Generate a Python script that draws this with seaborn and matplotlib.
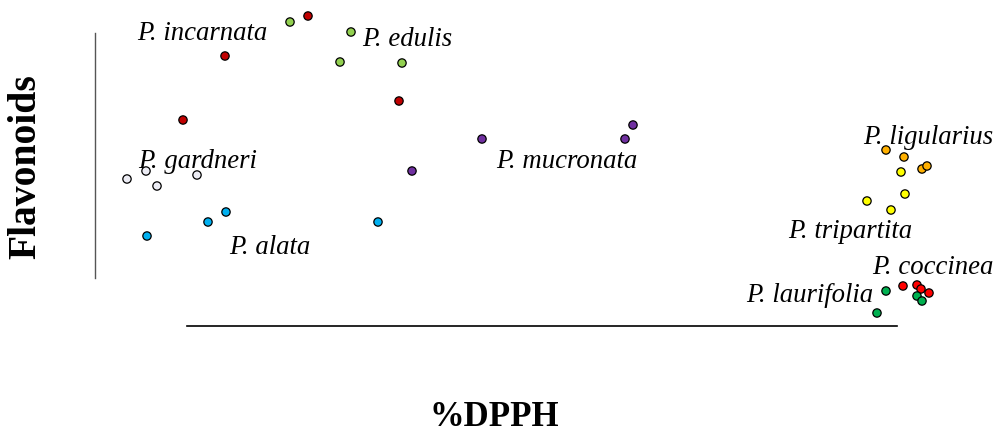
import numpy as np
import pandas as pd
import matplotlib
matplotlib.use("Agg")
import matplotlib.pyplot as plt
import seaborn as sns

sns.set_theme(style="white")
plt.rcParams["font.family"] = ["Liberation Serif", "DejaVu Serif"]
plt.rcParams["text.color"] = "black"

# ----------------------------------------------------------------------
# Data (arbitrary score units)
# ----------------------------------------------------------------------
species = ["P. incarnata", "P. edulis", "P. gardneri", "P. alata", "P. mucronata",
           "P. ligularius", "P. tripartita", "P. coccinea", "P. laurifolia"]

incarnata_x = [30.8, 22.5, 39.9, 18.3]
incarnata_y = [41.8, 37.8, 33.3, 31.4]
edulis_x = [29.0, 35.1, 34.0, 40.2]
edulis_y = [41.2, 40.2, 37.2, 37.1]
gardneri_x = [12.7, 14.6, 15.7, 19.7]
gardneri_y = [25.5, 26.3, 24.8, 25.9]
alata_x = [22.6, 20.8, 14.7, 37.8]
alata_y = [22.2, 21.2, 19.8, 21.2]
mucronata_x = [41.2, 48.2, 63.3, 62.5]
mucronata_y = [26.3, 29.5, 30.9, 29.5]
ligularius_x = [88.6, 90.4, 92.2, 92.7]
ligularius_y = [28.4, 27.7, 26.5, 26.8]
tripartita_x = [90.1, 90.5, 86.7, 89.1]
tripartita_y = [26.2, 24.0, 23.3, 22.4]
coccinea_x = [90.3, 91.7, 92.1, 92.9]
coccinea_y = [14.8, 14.9, 14.5, 14.1]
laurifolia_x = [88.6, 87.7, 91.7, 92.2]
laurifolia_y = [14.3, 12.1, 13.8, 13.3]

colors = ["#c00000", "#92d050", "#ececf4", "#00b0f0", "#7030a0",
          "#ffb000", "#ffff00", "#ff0000", "#00b050"]

# label anchors (left edge, vertical centre)
label_x = [13.7, 36.2, 13.8, 22.9, 49.6, 86.3, 78.8, 87.2, 74.6]
label_y = [40.0, 39.4, 27.3, 18.7, 27.3, 29.7, 20.3, 16.6, 13.9]

xs = [incarnata_x, edulis_x, gardneri_x, alata_x, mucronata_x,
      ligularius_x, tripartita_x, coccinea_x, laurifolia_x]
ys = [incarnata_y, edulis_y, gardneri_y, alata_y, mucronata_y,
      ligularius_y, tripartita_y, coccinea_y, laurifolia_y]

df = pd.DataFrame({
    "DPPH": np.concatenate(xs),
    "Flavonoids": np.concatenate(ys),
    "Species": np.repeat(species, [len(v) for v in xs]),
})

# ----------------------------------------------------------------------
# Plot
# ----------------------------------------------------------------------
fig = plt.figure(figsize=(9.96, 4.34), dpi=100)
ax = fig.add_axes([0, 0, 1, 1])
sns.scatterplot(data=df, x="DPPH", y="Flavonoids", hue="Species",
                palette=dict(zip(species, colors)), s=36,
                edgecolor="black", linewidth=0.9, legend=False, ax=ax, zorder=3)

ax.set_xlim(0, 99.6)
ax.set_ylim(0, 43.4)
ax.set_xticks([]); ax.set_yticks([])
ax.set_xlabel(""); ax.set_ylabel("")
ax.patch.set_alpha(0)

for side in ["top", "right"]:
    ax.spines[side].set_visible(False)
ax.spines["left"].set_position(("data", 9.5))
ax.spines["left"].set_bounds(15.6, 40.1)
ax.spines["left"].set_color("#555555")
ax.spines["left"].set_linewidth(1.0)
ax.spines["bottom"].set_position(("data", 10.8))
ax.spines["bottom"].set_bounds(18.7, 89.7)
ax.spines["bottom"].set_color("black")
ax.spines["bottom"].set_linewidth(1.2)

for name, lx, ly in zip(species, label_x, label_y):
    ax.text(lx, ly, name, fontsize=19.3, style="italic", ha="left",
            va="center", color="black", zorder=2)

ax.text(0.496, 0.039, "%DPPH", transform=ax.transAxes, fontsize=25,
        fontweight="bold", ha="center", va="center", color="black")
ax.text(0.026, 0.617, "Flavonoids", transform=ax.transAxes, fontsize=28.5,
        fontweight="bold", ha="center", va="center", rotation=90, color="black")

plt.savefig("out.png", dpi=100)
plt.close()
